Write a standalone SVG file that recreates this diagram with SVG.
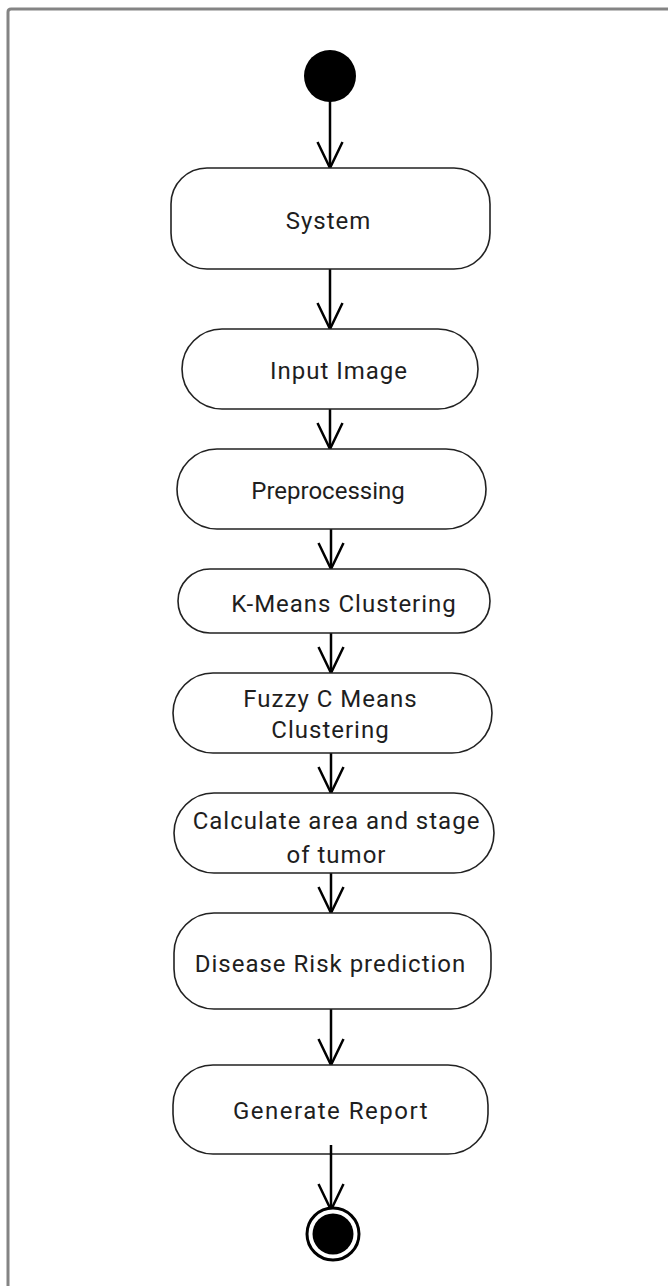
<svg xmlns="http://www.w3.org/2000/svg" width="668" height="1286" viewBox="0 0 668 1286">
<style>
.box{fill:#fff;stroke:#222;stroke-width:1.6}
.lbl{font-family:Roboto,"Liberation Sans",sans-serif;font-size:24px;letter-spacing:1px;fill:#1e1e1e;text-anchor:middle}
.edge{stroke:#000;stroke-width:2.5;fill:none}
</style>
<defs>
<marker id="arr" markerUnits="userSpaceOnUse" markerWidth="30" markerHeight="30" refX="14" refY="28" orient="0" viewBox="0 0 30 30">
<path d="M1.5 2 L14 28 L26.5 2" fill="none" stroke="#000" stroke-width="2.5"/>
</marker>
</defs>
<rect width="668" height="1286" fill="#fff"/>
<path d="M8 1290 V12 Q8 9 11 9 H672" fill="none" stroke="#848484" stroke-width="3"/>

<g id="connectors">
<line class="edge" x1="330" y1="100" x2="330" y2="168" marker-end="url(#arr)"/>
<line class="edge" x1="330" y1="269" x2="330" y2="329" marker-end="url(#arr)"/>
<line class="edge" x1="330" y1="409" x2="330" y2="449" marker-end="url(#arr)"/>
<line class="edge" x1="331" y1="529" x2="331" y2="569" marker-end="url(#arr)"/>
<line class="edge" x1="331" y1="633" x2="331" y2="673" marker-end="url(#arr)"/>
<line class="edge" x1="331" y1="753" x2="331" y2="793" marker-end="url(#arr)"/>
<line class="edge" x1="331" y1="873" x2="331" y2="913" marker-end="url(#arr)"/>
<line class="edge" x1="331" y1="1009" x2="331" y2="1065" marker-end="url(#arr)"/>
</g>

<g id="start">
<circle cx="330" cy="76" r="26" fill="#000"/>
</g>

<g id="system">
<rect class="box" x="171" y="168" width="319" height="101" rx="36" ry="36"/>
<text class="lbl" x="328.5" y="229">System</text>
</g>

<g id="input-image">
<rect class="box" x="182" y="329" width="296" height="80" rx="40" ry="40"/>
<text class="lbl" x="339" y="379">Input Image</text>
</g>

<g id="preprocessing">
<rect class="box" x="177" y="449" width="309" height="80" rx="40" ry="40"/>
<text class="lbl" x="328" y="499" style="letter-spacing:0">Preprocessing</text>
</g>

<g id="kmeans">
<rect class="box" x="178" y="569" width="312" height="64" rx="32" ry="32"/>
<text class="lbl" x="344" y="612">K-Means Clustering</text>
</g>

<g id="fuzzy">
<rect class="box" x="173" y="673" width="319" height="80" rx="40" ry="40"/>
<text class="lbl" x="330.5" y="707">Fuzzy C Means</text>
<text class="lbl" x="330.5" y="738">Clustering</text>
</g>

<g id="calculate">
<rect class="box" x="174" y="793" width="320" height="80" rx="40" ry="40"/>
<text class="lbl" x="336.5" y="829">Calculate area and stage</text>
<text class="lbl" x="336.5" y="863">of tumor</text>
</g>

<g id="disease">
<rect class="box" x="174" y="913" width="317" height="96" rx="40" ry="40"/>
<text class="lbl" x="330.5" y="972">Disease Risk prediction</text>
</g>

<g id="generate">
<rect class="box" x="173" y="1065" width="315" height="89" rx="40" ry="40"/>
<text class="lbl" x="331" y="1119" style="letter-spacing:1.5px">Generate Report</text>
</g>

<g id="connector-final">
<line class="edge" x1="331" y1="1145" x2="331" y2="1210" marker-end="url(#arr)"/>
</g>

<g id="end">
<circle cx="333" cy="1234" r="26" fill="#fff" stroke="#000" stroke-width="3"/>
<circle cx="333" cy="1234" r="20.5" fill="#000"/>
</g>
</svg>
